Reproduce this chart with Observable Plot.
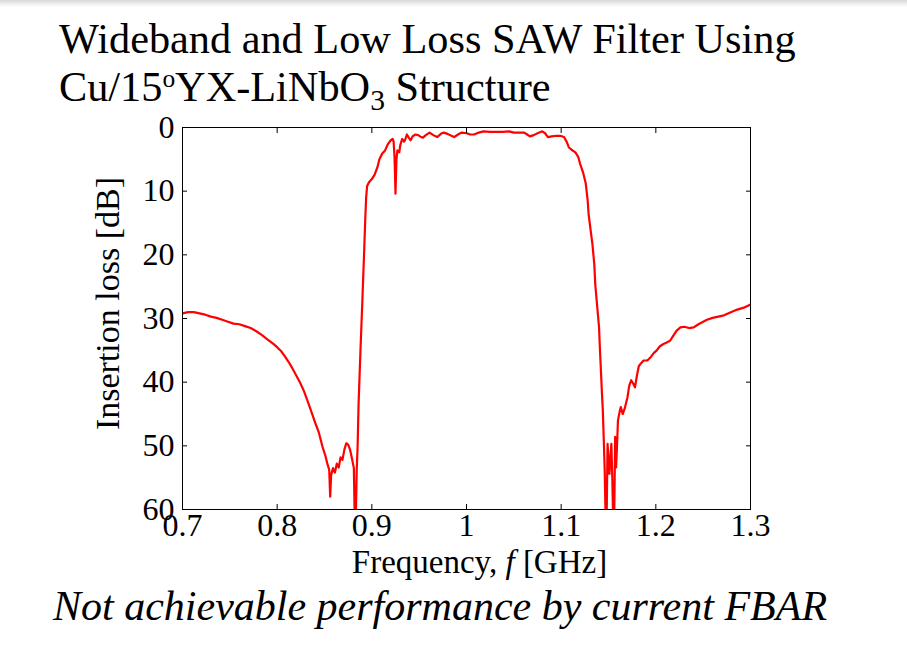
<!DOCTYPE html>
<html>
<head>
<meta charset="utf-8">
<script src="https://cdn.jsdelivr.net/npm/d3@7"></script>
<script src="https://cdn.jsdelivr.net/npm/@observablehq/plot@0.6"></script>
<style>
  html, body { margin: 0; padding: 0; background: #fff; }
  #page { position: relative; width: 907px; height: 647px; overflow: hidden; background: #fff; font-family: "Liberation Serif", "Times New Roman", serif; color: #000; }
  #shade { position: absolute; left: 0; top: 0; width: 907px; height: 7px; background: linear-gradient(#d8d8d8, #fff); }
  #title { position: absolute; left: 59px; top: 15px; font-size: 42.3px; line-height: 48px; white-space: nowrap; z-index: 2; }
  #chart { position: absolute; left: 0; top: 100px; z-index: 1; }
  #caption { position: absolute; left: 53px; top: 585px; font-size: 42px; line-height: 42px; font-style: italic; white-space: nowrap; }
</style>
</head>
<body>
<div id="page">
  <div id="shade"></div>
  <div id="title">Wideband and Low Loss SAW Filter Using<br>Cu/15<sup style="font-size:60%;vertical-align:0.55em;line-height:0">o</sup>YX-LiNbO<sub style="font-size:70%;vertical-align:-0.3em;line-height:0">3</sub> Structure</div>
  <div id="chart"></div>
  <div id="caption">Not achievable performance by current FBAR</div>
</div>
<script>
const freq = [
  0.700,0.706,0.712,0.718,0.724,0.730,0.736,0.742,0.748,0.754,0.760,0.766,0.772,0.778,0.784,0.790,0.796,0.800,
  0.804,0.808,0.812,0.816,0.820,0.824,0.828,0.832,0.836,0.840,0.844,0.848,0.851,0.853,0.855,0.856,0.857,0.859,
  0.861,0.863,0.865,0.867,0.869,0.871,0.873,0.875,0.877,0.879,0.881,0.882,0.883,0.884,0.885,0.886,0.888,0.890,
  0.892,0.893,0.894,0.895,0.897,0.900,0.903,0.906,0.908,0.911,0.914,0.917,0.920,0.922,0.923,0.924,0.925,0.926,
  0.927,0.929,0.930,0.932,0.934,0.935,0.937,0.939,0.941,0.943,0.946,0.949,0.951,0.954,0.957,0.961,0.965,0.969,
  0.973,0.976,0.980,0.984,0.987,0.991,0.995,1.000,1.004,1.008,1.013,1.018,1.025,1.032,1.038,1.045,1.050,1.055,
  1.061,1.064,1.067,1.071,1.075,1.080,1.083,1.086,1.090,1.095,1.099,1.103,1.106,1.108,1.111,1.115,1.118,1.120,
  1.123,1.126,1.128,1.129,1.131,1.133,1.135,1.136,1.138,1.140,1.141,1.142,1.143,1.144,1.145,1.146,1.147,1.148,
  1.149,1.150,1.151,1.152,1.153,1.154,1.155,1.156,1.157,1.158,1.159,1.160,1.162,1.163,1.165,1.167,1.170,1.172,
  1.174,1.176,1.178,1.180,1.182,1.184,1.187,1.191,1.195,1.198,1.201,1.204,1.208,1.211,1.215,1.218,1.222,1.226,
  1.230,1.235,1.240,1.245,1.250,1.254,1.260,1.266,1.272,1.278,1.286,1.293,1.300
];
const lossDb = [
  29.2,29.0,29.0,29.2,29.4,29.7,29.9,30.2,30.5,30.8,30.9,31.2,31.5,32.0,32.6,33.3,34.0,34.5,
  35.1,35.9,36.8,37.8,38.9,40.0,41.3,42.9,44.6,46.3,47.9,50.2,51.6,52.8,53.8,58.0,54.6,53.5,
  54.2,52.8,53.4,51.8,52.2,50.6,49.6,49.8,50.6,52.0,53.5,62,62,54.0,50.0,43.4,35.0,27.2,
  19.0,14.6,11.0,9.2,8.6,8.1,7.4,6.2,5.0,4.1,3.6,2.6,2.0,1.8,2.2,4.7,10.4,5.0,
  3.6,3.9,2.8,1.8,2.2,2.0,1.1,1.6,2.0,1.4,1.1,1.2,1.4,1.6,1.2,0.8,1.2,1.5,
  1.0,0.8,1.0,1.3,1.5,1.1,0.8,0.9,1.1,1.1,0.8,0.6,0.7,0.7,0.7,0.6,0.8,0.8,
  0.8,1.1,1.4,1.2,0.9,0.6,0.9,1.5,1.4,1.3,1.3,1.5,2.3,3.1,3.5,3.9,4.6,5.7,
  7.0,8.8,11.5,13.6,16.0,18.3,21.5,24.6,28.0,31.4,35.0,38.2,41.5,44.4,49.0,53.9,62,62,
  49.7,52.0,54.4,52.0,49.7,55,62,62,48.6,53.4,50,46.0,44.5,43.9,45.0,44.2,42.4,40.5,
  39.7,40.2,40.8,39.0,37.5,37.1,36.6,36.6,36.0,35.4,35.0,34.4,34.0,33.8,33.5,32.8,31.9,31.4,
  31.3,31.5,31.4,30.9,30.5,30.2,29.9,29.7,29.5,29.1,28.6,28.3,27.8
];
const xTicks = [0.7, 0.8, 0.9, 1.0, 1.1, 1.2, 1.3];
const yTicks = [0, 10, 20, 30, 40, 50, 60];
const xLabel = "Frequency, f [GHz]";
const yLabel = "Insertion loss [dB]";

const data = freq.map((f, i) => ({f, db: lossDb[i]}));
const fmtX = d => String(+d.toFixed(1));

const chart = Plot.plot({
  width: 907,
  height: 485,
  marginLeft: 182,
  marginRight: 157,
  marginTop: 27,
  marginBottom: 76,
  style: {fontFamily: "Liberation Serif, Times New Roman, serif", fontSize: "32px", background: "white", color: "black", overflow: "visible"},
  x: {domain: [0.7, 1.3]},
  y: {domain: [0, 60], reverse: true},
  marks: [
    Plot.line(data, {x: "f", y: "db", stroke: "#ff0000", strokeWidth: 2.2, clip: true}),
    Plot.frame({stroke: "black", strokeWidth: 1}),
    Plot.axisX(xTicks, {anchor: "bottom", tickSize: -5, tickPadding: 9, tickFormat: fmtX, label: xLabel, labelAnchor: "center", labelOffset: 63}),
    Plot.axisX(xTicks, {anchor: "top", tickSize: -5, tickFormat: () => "", label: null}),
    Plot.axisY(yTicks, {anchor: "left", tickSize: -5, tickPadding: 13, label: yLabel, labelAnchor: "center", labelOffset: 88}),
    Plot.axisY(yTicks, {anchor: "right", tickSize: -5, tickFormat: () => "", label: null})
  ]
});
document.getElementById("chart").appendChild(chart);

// axis label texts: italic "f" on x, no direction arrow on y
d3.select(chart).selectAll('g[aria-label="x-axis label"] text').each(function() {
  this.innerHTML = 'Frequency, <tspan font-style="italic">f</tspan> [GHz]';
  this.setAttribute("font-size", "33px");
  this.setAttribute("dx", "13");
});
d3.select(chart).selectAll('g[aria-label="y-axis label"] text').each(function() {
  this.textContent = yLabel;
  this.setAttribute("font-size", "34px");
  this.setAttribute("dx", "15");
});
</script>
</body>
</html>
